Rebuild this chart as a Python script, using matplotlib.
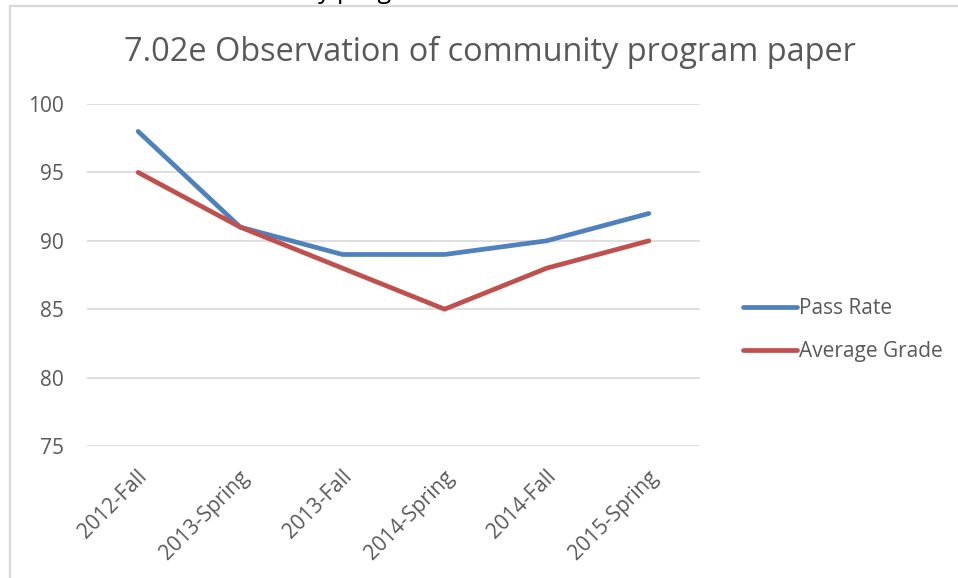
import matplotlib
matplotlib.use('Agg')
import matplotlib.pyplot as plt
from matplotlib.patches import Rectangle
from matplotlib.transforms import ScaledTranslation

# Data
terms = ['2012-Fall', '2013-Spring', '2013-Fall', '2014-Spring', '2014-Fall', '2015-Spring']
pass_rate = [98, 91, 89, 89, 90, 92]
avg_grade = [95, 91, 88, 85, 88, 90]
y_ticks = [75, 80, 85, 90, 95, 100]

BLUE = '#4F81BD'
RED = '#C0504D'
TEXT = '#595959'
GRID = '#D9D9D9'

plt.rcParams['font.family'] = ['Open Sans', 'DejaVu Sans']

W, H = 958, 578
fig = plt.figure(figsize=(W / 100, H / 100), dpi=100)
fig.patch.set_facecolor('white')

# chart frame (light grey border, runs off right/bottom edges)
fig.patches.append(Rectangle((10 / W, -0.05), 1.2, (H - 6) / H + 0.05,
                             transform=fig.transFigure, fill=False,
                             edgecolor='#D9D9D9', linewidth=1.6))

# clipped remnant of slide text above the chart (only descenders show)
fig.text(318 / W, 1.0 + 2 / H, 'y program', fontsize=18, color='black',
         ha='left', va='baseline')

ax = fig.add_axes([87 / W, 132 / H, 613 / W, 342 / H])
x = range(len(terms))
ax.plot(x, pass_rate, color=BLUE, linewidth=3.4, solid_capstyle='round',
        label='Pass Rate', zorder=3)
ax.plot(x, avg_grade, color=RED, linewidth=3.4, solid_capstyle='round',
        label='Average Grade', zorder=3)

ax.set_xlim(-0.5, len(terms) - 0.5)
ax.set_ylim(75, 100)
ax.set_yticks(y_ticks)
ax.set_xticks(list(x))
ax.set_xticklabels(terms, rotation=45, ha='right', va='center',
                   rotation_mode='anchor')
ax.tick_params(axis='both', length=0, labelsize=15, colors=TEXT)
ax.tick_params(axis='y', pad=16.5)
ax.tick_params(axis='x', pad=20)
shift = ScaledTranslation(6 / 100, 0, fig.dpi_scale_trans)
for lbl in ax.get_xticklabels():
    lbl.set_transform(lbl.get_transform() + shift)
ax.grid(True, axis='y', color=GRID, linewidth=1.2)
ax.set_axisbelow(True)
for s in ax.spines.values():
    s.set_visible(False)

fig.text(490 / W, 1 - 52 / H, '7.02e Observation of community program paper',
         fontsize=23.4, color=TEXT, ha='center', va='center')

ax.legend(loc='center left', bbox_to_anchor=(724 / W, 1 - 330 / H),
          bbox_transform=fig.transFigure, frameon=False, fontsize=15,
          labelcolor=TEXT, handlelength=2.6, handletextpad=0.1,
          labelspacing=1.05)

fig.savefig('out.png', dpi=100, facecolor='white')
